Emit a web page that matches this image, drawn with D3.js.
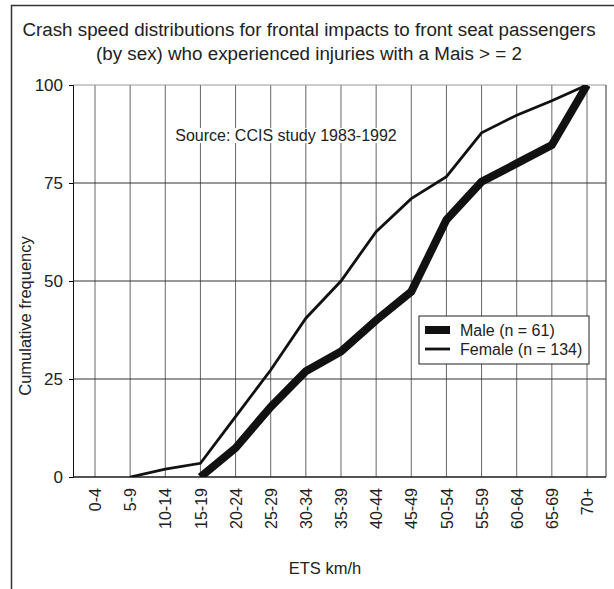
<!DOCTYPE html>
<html>
<head>
<meta charset="utf-8">
<script src="https://cdn.jsdelivr.net/npm/d3@7/dist/d3.min.js"></script>
<style>
  body { margin: 0; background: #fff; }
  text { font-family: "Liberation Sans", Arial, Helvetica, sans-serif; fill: #222; }
</style>
</head>
<body>
<div id="chart"></div>
<script>
// chart data
var speedBands = ["0-4", "5-9", "10-14", "15-19", "20-24", "25-29", "30-34", "35-39",
                  "40-44", "45-49", "50-54", "55-59", "60-64", "65-69", "70+"];
var maleValues = [null, null, null, 0, 7.4, 17.9, 27, 32, 40, 47.3, 65.6, 75.3, 80, 84.7, 100];
var femaleValues = [null, 0, 2, 3.5, 15.4, 27.3, 40.5, 50, 62.6, 71, 76.6, 87.8, 92.3, 96, 100];
var yTicks = [0, 25, 50, 75, 100];
var seriesNames = ["Male (n = 61)", "Female (n = 134)"];

var svgWidth = 614;
var svgHeight = 589;

// plot frame
var plot = { left: 73, right: 606, top: 85, bottom: 477 };

var svg = d3.select("#chart").append("svg")
    .attr("width", svgWidth)
    .attr("height", svgHeight);

// outer figure border (runs off the right and bottom)
svg.append("rect")
    .attr("x", 11.5)
    .attr("y", 5.5)
    .attr("width", 620)
    .attr("height", 620)
    .attr("fill", "none")
    .attr("stroke", "#333")
    .attr("stroke-width", 1.5);

// title
var title = svg.append("text")
    .attr("text-anchor", "middle")
    .style("font-size", "18.8px");
title.append("tspan").attr("x", 309).attr("y", 36)
    .text("Crash speed distributions for frontal impacts to front seat passengers");
title.append("tspan").attr("x", 309).attr("y", 60)
    .text("(by sex) who experienced injuries with a Mais > = 2");

// scales
var xScale = d3.scalePoint()
    .domain(speedBands)
    .range([95, 587]);

var yScale = d3.scaleLinear()
    .domain([0, 100])
    .range([plot.bottom, plot.top]);

// vertical grid lines
svg.append("g")
    .selectAll("line")
    .data(speedBands)
    .enter()
    .append("line")
    .attr("x1", d => xScale(d))
    .attr("x2", d => xScale(d))
    .attr("y1", plot.top)
    .attr("y2", plot.bottom)
    .attr("stroke", "#666")
    .attr("stroke-width", 1);

// horizontal grid lines
svg.append("g")
    .selectAll("line")
    .data(yTicks)
    .enter()
    .append("line")
    .attr("x1", plot.left)
    .attr("x2", plot.right)
    .attr("y1", d => yScale(d))
    .attr("y2", d => yScale(d))
    .attr("stroke", d => d === 100 ? "#999" : "#333")
    .attr("stroke-width", 1);

// right edge
svg.append("line")
    .attr("x1", plot.right).attr("x2", plot.right)
    .attr("y1", plot.top).attr("y2", plot.bottom)
    .attr("stroke", "#333");

// source note with white background
var note = svg.append("g");
var noteBg = note.append("rect").attr("fill", "#fff");
var noteText = note.append("text")
    .attr("x", 286)
    .attr("y", 141)
    .attr("text-anchor", "middle")
    .style("font-size", "16px")
    .text("Source: CCIS study 1983-1992");
var nb = noteText.node().getBBox();
noteBg.attr("x", nb.x - 2).attr("y", nb.y + 1).attr("width", nb.width + 4).attr("height", nb.height - 2);

// clip lines to plot area
svg.append("clipPath")
    .attr("id", "plot-clip")
    .append("rect")
    .attr("x", plot.left)
    .attr("y", plot.top)
    .attr("width", plot.right - plot.left)
    .attr("height", plot.bottom - plot.top);

var line = d3.line()
    .defined(d => d != null)
    .x((d, i) => xScale(speedBands[i]))
    .y(d => yScale(d));

svg.append("path")
    .datum(femaleValues)
    .attr("clip-path", "url(#plot-clip)")
    .attr("d", line)
    .attr("fill", "none")
    .attr("stroke", "#111")
    .attr("stroke-width", 2.8)
    .attr("stroke-linejoin", "miter");

svg.append("path")
    .datum(maleValues)
    .attr("clip-path", "url(#plot-clip)")
    .attr("d", line)
    .attr("fill", "none")
    .attr("stroke", "#111")
    .attr("stroke-width", 8)
    .attr("stroke-linejoin", "miter");

// y axis
var leftAxis = d3.axisLeft(yScale)
    .tickValues(yTicks)
    .tickSize(4)
    .tickPadding(6);

var yAxis = svg.append("g")
    .attr("transform", `translate(${plot.left}, 0)`)
    .call(leftAxis);
yAxis.select(".domain").attr("stroke", "#111");
yAxis.selectAll("text").style("font-size", "17px").attr("fill", "#222");

// x axis
var bottomAxis = d3.axisBottom(xScale)
    .tickSize(0)
    .tickPadding(0);

var xAxis = svg.append("g")
    .attr("transform", `translate(0, ${plot.bottom})`)
    .call(bottomAxis);
xAxis.select(".domain")
    .attr("d", `M${plot.left},0H${plot.right}`)
    .attr("stroke", "#111");
xAxis.selectAll("text")
    .style("font-size", "16px")
    .attr("fill", "#222")
    .attr("text-anchor", "end")
    .attr("transform", "rotate(-90)")
    .attr("x", -11)
    .attr("y", 0)
    .attr("dy", "0.35em");

// axis titles
svg.append("text")
    .attr("transform", "rotate(-90)")
    .attr("x", -316)
    .attr("y", 31)
    .attr("text-anchor", "middle")
    .style("font-size", "16.5px")
    .text("Cumulative frequency");

svg.append("text")
    .attr("x", 325)
    .attr("y", 574)
    .attr("text-anchor", "middle")
    .style("font-size", "16.5px")
    .text("ETS km/h");

// legend
var legend = svg.append("g").attr("transform", "translate(419, 316)");
legend.append("rect")
    .attr("width", 170)
    .attr("height", 48)
    .attr("fill", "#fff")
    .attr("stroke", "#222")
    .attr("stroke-width", 1);

var legendWidths = [8, 2.8];
legendWidths.forEach(function(w, i) {
    legend.append("line")
        .attr("x1", 6).attr("x2", 31)
        .attr("y1", 14 + i * 19).attr("y2", 14 + i * 19)
        .attr("stroke", "#111")
        .attr("stroke-width", w);
    legend.append("text")
        .attr("x", 41)
        .attr("y", 14 + i * 19)
        .attr("dy", "0.35em")
        .style("font-size", "16px")
        .text(seriesNames[i]);
});
</script>
</body>
</html>
